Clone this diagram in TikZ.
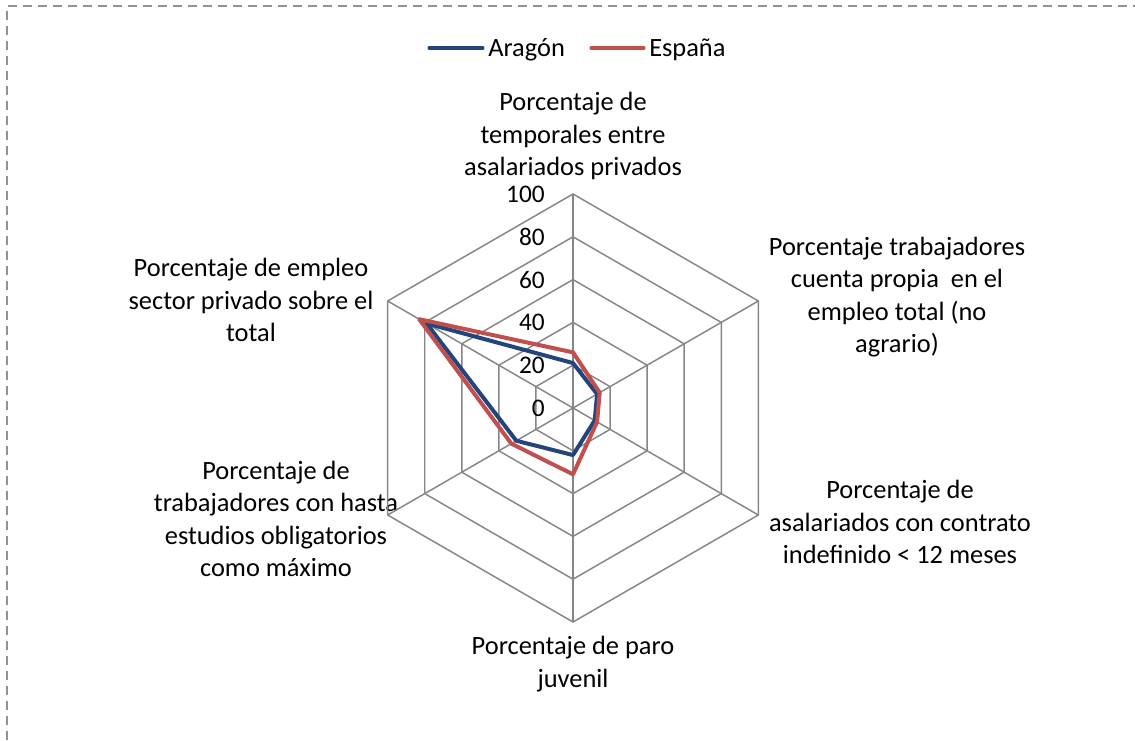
\documentclass[tikz,border=0pt]{standalone}
\usepackage{fontspec}
\setmainfont{Carlito}
\definecolor{aragon}{RGB}{36,68,124}
\definecolor{espana}{RGB}{192,80,77}
\definecolor{rejilla}{RGB}{134,134,134}
\begin{document}
\begin{tikzpicture}[%
        x=0.75pt,y=0.75pt,%
        rejilla/.style={%
            draw=rejilla,%
            line width=1.1pt%
        },%
        serie/.style={%
            line width=3pt,%
            line join=round%
        },%
        categoria/.style={%
            align=center,%
            inner sep=0pt,%
            font=\fontsize{19.8}{24.4}\selectfont%
        },%
        valor/.style={%
            anchor=east,%
            inner sep=0pt,%
            font=\fontsize{19}{22}\selectfont%
        },%
        leyenda/.style={%
            anchor=base west,%
            inner sep=0pt,%
            font=\fontsize{19.8}{24.4}\selectfont%
        }%
    ]
    \useasboundingbox (0,0) rectangle (1135,740);
    % marco
    \draw [rejilla!90,line width=0.9pt,dash pattern=on 6.75pt off 4.5pt] (7,0)--(7,734)--(1135,734);
    % leyenda
    \node (aragon) at (488,683) [leyenda]{Arag\'on};
    \node (espana) at (649,683) [leyenda]{Espa\~na};
    \draw [serie,aragon,line width=2.3pt,line cap=round] ([shift={(-5,9)}]aragon.base west) -- ++(-54,0);
    \draw [serie,espana,line width=2.3pt,line cap=round] ([shift={(-5,9)}]espana.base west) -- ++(-53,0);
    % categorias
    \node (temporales) at ( 573,604) [categoria]{Porcentaje de\\temporales entre\\asalariados privados};
    \node (propia)     at ( 897,443) [categoria]{Porcentaje trabajadores\\cuenta propia \ en el\\empleo total (no\\agrario)};
    \node (indefinido) at ( 900,218) [categoria]{Porcentaje de\\asalariados con contrato\\indefinido < 12 meses};
    \node (paro)       at ( 573, 76) [categoria]{Porcentaje de paro\\juvenil};
    \node (estudios)   at ( 276,221) [categoria]{Porcentaje de\\trabajadores con hasta\\estudios obligatorios\\como m\'aximo};
    \node (privado)    at ( 251,440) [categoria]{Porcentaje de empleo\\sector privado sobre el\\total};
    \begin{scope}[shift={(573,332)}]
        \coordinate (centro) at (0,0);
        % rejilla
        \foreach \r in {1,...,5}
            \draw [rejilla] (90:\r*42.8)--(30:\r*42.8)--(-30:\r*42.8)--(-90:\r*42.8)--(-150:\r*42.8)--(150:\r*42.8)--cycle;
        \foreach \a in {90,30,-30,-90,-150,150}
            \draw [rejilla] (centro) -- (\a:214);
        % escala
        \foreach \v [count=\i from 0] in {0,20,40,60,80,100}
            \node (v\v) at (-28,\i*42.8) [valor]{\v};
        % series
        \draw [serie,aragon] (90:21*2.14)--(30:13*2.14)--(-30:11.7*2.14)--(-90:22*2.14)--(-150:30.6*2.14)--(150:79*2.14)--cycle;
        \draw [serie,espana] (90:26*2.14)--(30:14.4*2.14)--(-30:13*2.14)--(-90:31*2.14)--(-150:33.3*2.14)--(150:83*2.14)--cycle;
    \end{scope}
\end{tikzpicture}
\end{document}
